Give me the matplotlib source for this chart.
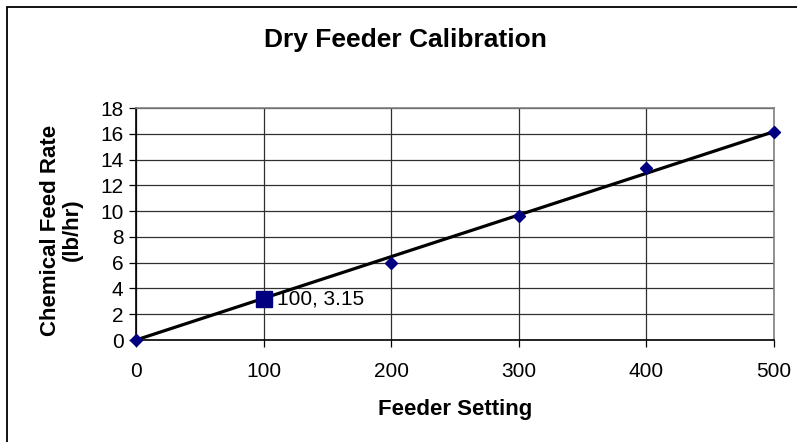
import numpy as np
import matplotlib
matplotlib.use("Agg")
import matplotlib.pyplot as plt
from matplotlib.patches import Rectangle

plt.rcParams['font.family'] = ['Liberation Sans', 'DejaVu Sans']

feeder_setting = [0, 100, 200, 300, 400, 500]
feed_rate = [0, 3.15, 6.0, 9.6, 13.35, 16.1]
highlight_x = 100
highlight_y = 3.15
highlight_label = "100, 3.15"
x_ticks = [0, 100, 200, 300, 400, 500]
y_ticks = [0, 2, 4, 6, 8, 10, 12, 14, 16, 18]

W, H = 797, 442
fig = plt.figure(figsize=(W / 100, H / 100), dpi=100)
fig.patch.set_facecolor('white')

# chart area border (left and top visible)
fig.patches.append(Rectangle((7 / W, -0.2), 1.2, 1.2 - 7 / H, transform=fig.transFigure,
                             fill=False, edgecolor='black', linewidth=1.3, zorder=0))

L, R, T, B = 136, 774, 108, 340
ax = fig.add_axes([L / W, 1 - B / H, (R - L) / W, (B - T) / H])
ax.set_xlim(0, 500)
ax.set_ylim(0, 18)
ax.set_xticks(x_ticks)
ax.set_yticks(y_ticks)
ax.grid(True, color='#303030', linewidth=0.9)
ax.set_axisbelow(True)
for s in ax.spines.values():
    s.set_color('#808080')
    s.set_linewidth(1.2)
ax.spines['left'].set_color('black')
ax.spines['bottom'].set_color('black')
ax.tick_params(axis='both', direction='out', length=5, width=0.9, color='black',
               labelsize=15, pad=4)
ax.tick_params(axis='x', pad=11)

# linear trendline through origin, fit from data
xs = np.array(feeder_setting, dtype=float)
ys = np.array(feed_rate, dtype=float)
slope = (xs * ys).sum() / (xs * xs).sum()
ax.plot([xs[0], xs[-1]], [slope * xs[0], slope * xs[-1]], color='black', linewidth=2.3,
        zorder=3, clip_on=False)

ax.plot(feeder_setting, feed_rate, linestyle='none', marker='D', markersize=6,
        color='#000080', zorder=4, clip_on=False)
ax.plot([highlight_x], [highlight_y], linestyle='none', marker='s', markersize=11,
        color='#000080', zorder=5)
ax.annotate(highlight_label, (highlight_x, highlight_y), xytext=(10, 0),
            textcoords='offset points', va='center', ha='left', fontsize=15, zorder=6)

fig.text(405 / W, 1 - 40 / H, "Dry Feeder Calibration", ha='center', va='center',
         fontsize=19, fontweight='bold')
fig.text(455 / W, 1 - 410 / H, "Feeder Setting", ha='center', va='center',
         fontsize=16, fontweight='bold')
fig.text(61 / W, 1 - 230 / H, "Chemical Feed Rate\n(lb/hr)", ha='center', va='center',
         fontsize=16, fontweight='bold', rotation=90, linespacing=1.05)

fig.savefig("out.png", dpi=100)
